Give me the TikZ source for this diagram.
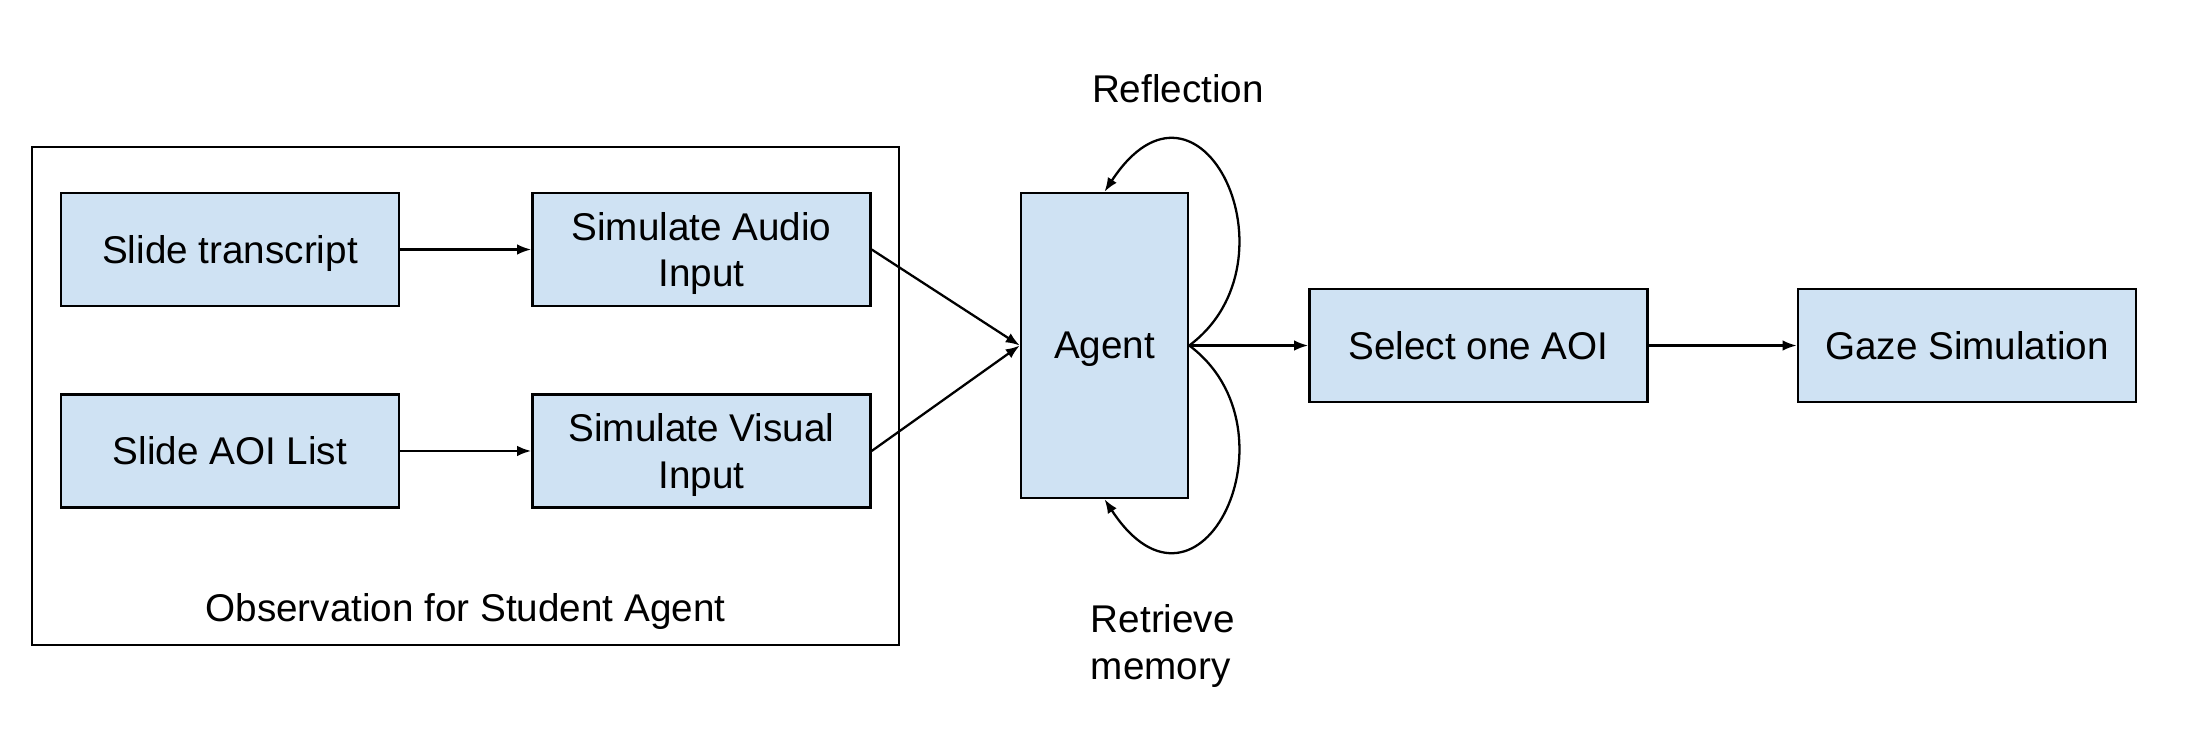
\documentclass[tikz,border=0pt]{standalone}
\usepackage{fontspec}
\setmainfont{Liberation Sans}
\usetikzlibrary{positioning,arrows.meta}
\definecolor{boxblue}{HTML}{CFE2F3}

\begin{document}
\begin{tikzpicture}[
  st/.style={draw, line width=0.7pt, fill=boxblue, minimum width=3.38cm, minimum height=1.13cm, align=center, inner sep=2pt, text depth=0pt, font=\fontsize{11}{13.2}\selectfont},
  lbl/.style={text depth=0pt, font=\fontsize{11}{13.2}\selectfont},
  >={Latex[length=4pt,width=3pt]}, line width=0.65pt]
  \useasboundingbox (0,0) rectangle (22.12,-7.44);
  \node[draw, line width=0.7pt, minimum width=8.67cm, minimum height=4.98cm] (obs) at (4.655,-3.96) {};
  \node[st] (trans) at (2.30,-2.495) {Slide transcript};
  \node[st, right=1.31cm of trans] (audio) {Simulate Audio\\Input};
  \node[st, below=0.86cm of trans] (aoilist) {Slide AOI List};
  \node[st, right=1.31cm of aoilist] (visual) {Simulate Visual\\Input};
  \node[lbl] (obslbl) at (4.655,-6.07) {Observation for Student Agent};
  \node[st, minimum width=1.67cm, minimum height=3.05cm] (agent) at (11.045,-3.455) {Agent};
  \node[st, right=1.19cm of agent] (select) {Select one AOI};
  \node[st, right=1.48cm of select] (gaze) {Gaze Simulation};
  \node[lbl] (refl) at (11.78,-0.88) {Reflection};
  \node[lbl, align=left, anchor=west] (mem) at (10.78,-6.42) {Retrieve\\memory};
  \draw[->] (trans) -- (audio);
  \draw[->] (aoilist) -- (visual);
  \draw[->] (audio.east) -- (agent.west);
  \draw[->] (visual.east) -- (agent.west);
  \draw[->] (agent) -- (select);
  \draw[->] (select) -- (gaze);
  \draw[->] (agent.east) .. controls +(1.14,0.85) and +(0.95,1.45) .. (agent.north);
  \draw[->] (agent.east) .. controls +(1.14,-0.85) and +(0.95,-1.45) .. (agent.south);
\end{tikzpicture}
\end{document}
